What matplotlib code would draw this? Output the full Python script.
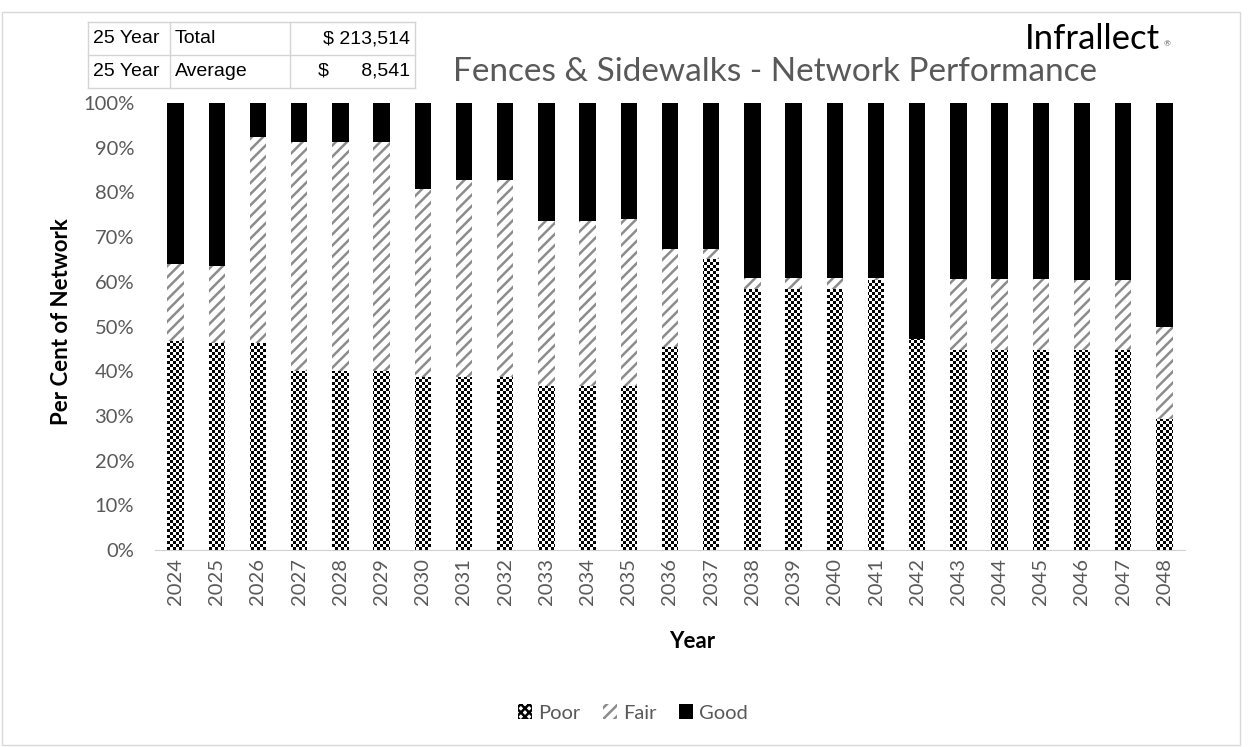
import numpy as np
import matplotlib.pyplot as plt
from matplotlib.patches import Patch, Rectangle
from matplotlib.path import Path
from matplotlib.ticker import PercentFormatter

# ---------------- data ----------------
years = list(range(2024, 2049))
poor = [46.8, 46.4, 46.4, 40.1, 40.1, 40.1, 38.7, 38.7, 38.7, 36.8, 36.8, 36.8,
        45.5, 65.0, 58.5, 58.5, 58.5, 60.5, 47.2, 44.8, 44.8, 44.8, 44.8, 44.8, 29.2]
poor_fair = [64.0, 63.6, 92.3, 91.3, 91.3, 91.3, 80.8, 82.8, 82.8, 73.7, 73.7, 74.0,
             67.3, 67.3, 60.8, 60.8, 60.8, 60.8, 47.2, 60.6, 60.6, 60.6, 60.3, 60.3, 49.9]
fair = [b - a for a, b in zip(poor, poor_fair)]
good = [100 - s for s in poor_fair]

table_rows = [["25 Year", "Total", "$ 213,514"],
              ["25 Year", "Average", "$      8,541"]]

grey = "#595959"
plt.rcParams['font.family'] = ['Lato', 'DejaVu Sans']
plt.rcParams['hatch.linewidth'] = 1.8

W, H = 1252, 747
fig = plt.figure(figsize=(W / 100, H / 100), dpi=100)
ax_l, ax_t, ax_w, ax_h = 155, 103, 1030, 447
ax = fig.add_axes([ax_l / W, 1 - (ax_t + ax_h) / H, ax_w / W, ax_h / H])

x = np.arange(len(years))
w = 0.4
poor_bars = ax.bar(x, poor, w, facecolor="white", linewidth=0)
ax.bar(x, fair, w, bottom=poor, facecolor="white", edgecolor="#8c8c8c", hatch="///", linewidth=0)
ax.bar(x, good, w, bottom=poor_fair, color="black", linewidth=0)

ax.set_xlim(-0.5, len(years) - 0.5)
ax.set_ylim(0, 100)

# checkerboard texture for the "Poor" segments, clipped to those bars
cell = 3
yy, xx = np.mgrid[0:ax_h, 0:ax_w]
checker = ((yy // cell + xx // cell) % 2).astype(float)
verts, codes = [], []
for b in poor_bars:
    x0, y0, bw, bh = b.get_x(), b.get_y(), b.get_width(), b.get_height()
    verts += [(x0, y0), (x0 + bw, y0), (x0 + bw, y0 + bh), (x0, y0 + bh), (x0, y0)]
    codes += [Path.MOVETO, Path.LINETO, Path.LINETO, Path.LINETO, Path.CLOSEPOLY]
im = ax.imshow(checker, cmap="gray", vmin=0, vmax=1, interpolation="nearest",
               extent=[-0.5, len(years) - 0.5, 0, 100], aspect="auto", zorder=2)
im.set_clip_path(Path(verts, codes), ax.transData)

ax.set_yticks(range(0, 101, 10))
ax.yaxis.set_major_formatter(PercentFormatter(decimals=0))
ax.set_xticks(x)
ax.set_xticklabels([str(y) for y in years], rotation=90)
ax.tick_params(axis="both", length=0, labelsize=14.5, labelcolor=grey)
ax.tick_params(axis="x", pad=6)
ax.tick_params(axis="y", pad=15)
for s in ["top", "right", "left"]:
    ax.spines[s].set_visible(False)
ax.spines["bottom"].set_color("#d0d0d0")
ax.set_xlabel("Year", fontsize=16, fontweight="bold")
ax.set_ylabel("Per Cent of Network", fontsize=16, fontweight="bold")
ax.xaxis.set_label_coords(0.5 + (692 - ax_l - ax_w / 2) / ax_w, -(642 - ax_t - ax_h) / ax_h)
ax.yaxis.set_label_coords(-(ax_l - 62) / ax_w, 0.5 - (322 - ax_t - ax_h / 2) / ax_h)
ax.xaxis.label.set_va("center")
ax.yaxis.label.set_va("center")

fig.text(775 / W, 1 - 72 / H, "Fences & Sidewalks - Network Performance",
         ha="center", va="center", fontsize=24, color=grey)
fig.text(1025 / W, 1 - 39 / H, "Infrallect", ha="left", va="center",
         fontsize=25, color="black")
fig.text(1164 / W, 1 - 44 / H, "\u00ae", ha="left", va="center", fontsize=6, color=grey)

# summary table in the top left corner
col_x = [88, 170, 290, 415]
row_y = [22, 55, 88]
for yv in row_y:
    fig.add_artist(plt.Line2D([col_x[0] / W, col_x[-1] / W], [1 - yv / H] * 2,
                              color="#d4d4d4", lw=1))
for xv in col_x:
    fig.add_artist(plt.Line2D([xv / W] * 2, [1 - row_y[0] / H, 1 - row_y[-1] / H],
                              color="#d4d4d4", lw=1))
for r, row in enumerate(table_rows):
    yc = 1 - (row_y[r] + row_y[r + 1]) / 2 / H
    fig.text((col_x[0] + 5) / W, yc, row[0], va="center", fontsize=14,
             family="Liberation Sans")
    fig.text((col_x[1] + 5) / W, yc, row[1], va="center", fontsize=14,
             family="Liberation Sans")
    fig.text((col_x[3] - 5) / W, yc, row[2], va="center", ha="right", fontsize=14,
             family="Liberation Sans")

handles = [Patch(facecolor="white", edgecolor="black", hatch="xxxx", linewidth=0, label="Poor"),
           Patch(facecolor="white", edgecolor="#8c8c8c", hatch="///", linewidth=0, label="Fair"),
           Patch(facecolor="black", linewidth=0, label="Good")]
leg = fig.legend(handles=handles, loc="center", bbox_to_anchor=(633 / W, 1 - 713 / H),
                 ncol=3, frameon=False, fontsize=14.5, handlelength=0.7, handleheight=0.7,
                 handletextpad=0.3, columnspacing=1.1)
for t in leg.get_texts():
    t.set_color(grey)

fig.add_artist(Rectangle((2 / W, 2 / H), 1238 / W, 733 / H, transform=fig.transFigure,
                         fill=False, edgecolor="#d9d9d9", lw=1))

fig.savefig("out.png", dpi=100)
